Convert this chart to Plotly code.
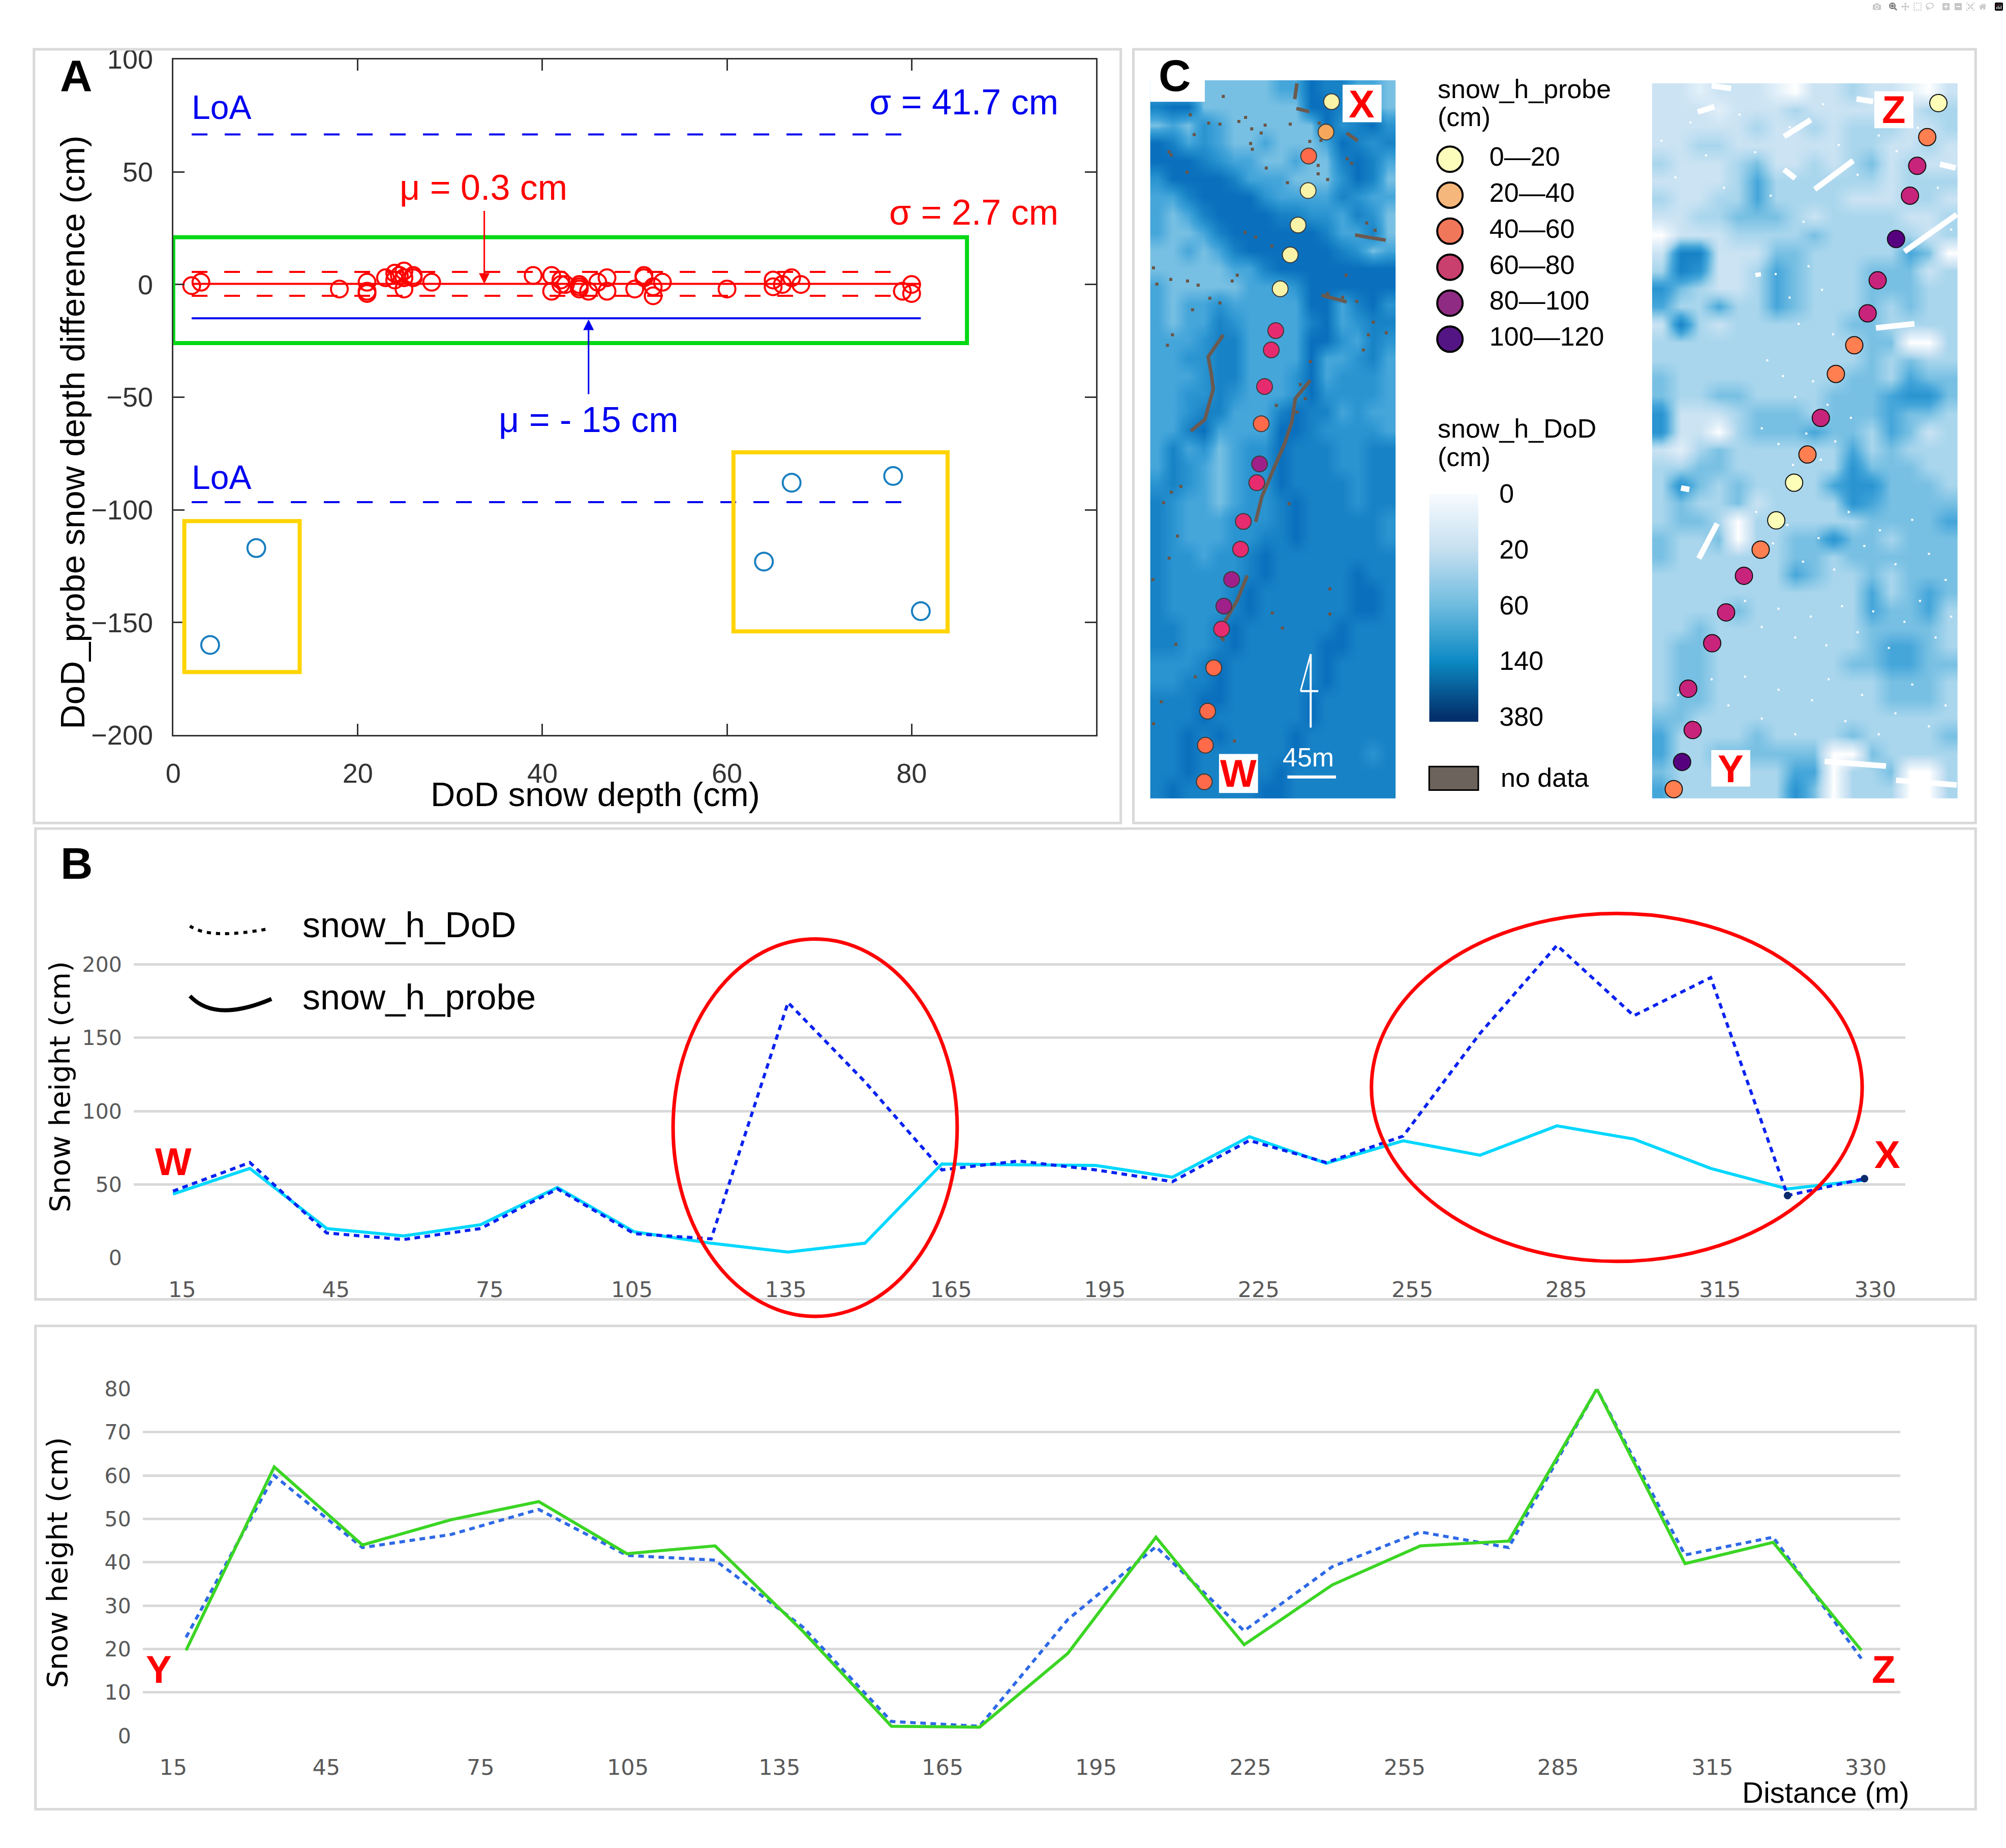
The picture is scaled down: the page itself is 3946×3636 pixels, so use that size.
import plotly.graph_objects as go

W, H = 3946, 3636
SANS = "Liberation Sans"
TICKS = "DejaVu Sans"

# Panel A: Bland-Altman points
inlier_depth = [2, 3, 18, 21, 21, 21, 23, 24, 24, 24.5, 25, 25, 25, 26, 26, 28, 39, 41, 41, 42, 42, 42.5,
                44, 44, 44, 45, 46, 47, 47, 50, 51, 51, 52, 52, 53, 60, 65, 65, 66, 67, 68, 79, 80, 80]
inlier_diff = [-0.5, 1, -2, 1, -3, -4, 3, 2, 5, 4, 6, -2, 3, 3, 4, 1, 4, 4, -3, 2, 0, 0,
               -1, 0, -2, -3, 1, 3, -3, -2, 3, 4, -1, -5, 1, -2, 2, -1, 0, 3, 0, -3, 0, -4]
outlier_depth = [4, 9, 64, 67, 78, 81]
outlier_diff = [-160, -117, -123, -88, -85, -145]
red_mean, red_upper, red_lower = 0.3, 5.6, -5.0
blue_mean, blue_upper, blue_lower = -15, 66.6, -96.6

# Panel B: transect W-X
wx_positions = list(range(23))
wx_probe = [43.5, 61, 20, 15, 22.6, 48, 17.8, 10, 4, 10, 64, 63.5, 63, 55, 82.6, 64.5, 79.8, 70, 90, 81, 61, 47, 53]
wx_dod = [45.5, 65, 17, 12.5, 20, 47, 16.5, 13, 174, 120, 60, 66, 60, 52, 80, 65, 83, 153, 213, 165, 191, 42.5, 54]
wx_labels = ["15", "45", "75", "105", "135", "165", "195", "225", "255", "285", "315", "330"]

# Panel B lower: transect Y-Z
yz_positions = list(range(20))
yz_probe = [19.7, 62, 44, 49.8, 54, 42, 43.8, 24, 2.2, 2, 19, 45.8, 21, 34.8, 43.8, 44.9, 80, 39.7, 44.6, 19.7]
yz_dod = [22.7, 60, 43.4, 46.4, 52.2, 41.6, 40.5, 25, 3.3, 2.2, 26.8, 43.6, 24.2, 39, 47, 43.4, 80, 41.7, 45.8, 17.8]
yz_labels = ["15", "45", "75", "105", "135", "165", "195", "225", "255", "285", "315", "330"]

# Panel C: probe classes and map sites (map coordinates)
probe_classes = ["0—20", "20—40", "40—60", "60—80", "80—100", "100—120"]
dod_labels = ["0", "20", "60", "140", "380"]

m1_x = [358, 348, 317, 316, 298, 284, 266, 258, 250, 238, 232, 229, 224, 200, 195, 179, 165, 161, 147, 136, 132, 130]
m1_y = [165, 223, 269, 335, 401, 458, 523, 603, 640, 710, 781, 858, 894, 968, 1021, 1079, 1130, 1174, 1248, 1331, 1396, 1466]
m1_class = [0, 1, 2, 0, 0, 0, 0, 3, 3, 3, 2, 4, 3, 3, 3, 4, 4, 3, 2, 2, 2, 2]

m2_x = [1447, 1427, 1409, 1396, 1371, 1338, 1320, 1296, 1263, 1236, 1212, 1188, 1156, 1128, 1098, 1066, 1041, 998, 1006, 987, 972]
m2_y = [168, 233, 288, 345, 428, 507, 570, 631, 686, 770, 840, 894, 966, 1022, 1072, 1142, 1201, 1288, 1367, 1428, 1480]
m2_class = [0, 2, 3, 3, 5, 3, 3, 2, 2, 3, 2, 0, 0, 2, 3, 3, 3, 3, 3, 5, 2]

# snow depth, one digit per cell (0 palest, 9 deepest)
m1_rows = [
    "5444444455877554", "7884444444887754", "4546544444486786", "8756544544458767", "8887655445447875",
    "6888875554446874", "5578888655557655", "5457888877665764", "5445788888875574", "4454578888887645",
    "4444455788888888", "5444445556888888", "5455655555885786", "5455765555785677", "5556775555886576",
    "5566775555855675", "5556775556856665", "5566765556866665", "5567755578775655", "5578555588766665",
    "5756456687776677", "5765456687776677", "6765456687777677", "7655456678777677", "7655566678777776",
    "7655566778777776", "7665667877777777", "7666667877777877", "7666678777777887", "7666678777777887",
    "7766787777778777", "7766787777788777", "6667877777787777", "6677877777787777", "7778877777877777",
    "7778777777877777", "7787877778777777", "7787777778777767", "7787777787777777", "7877777887777777",
]
m2_rows = [
    "2212221022322102", "2221222322221233", "2222232232333223", "2233222222332232", "3222342232342322",
    "2222353333332333", "3223353333222332", "2233444323333223", "0222333343333323", "2772224433333540",
    "3762235433344423", "6432235433344433", "5335335433343433", "2732333333443333", "3333333333344003",
    "3333333333343433", "4333333333443544", "4334433334445664", "6222344434445443", "6220344454435423",
    "2134333333534333", "3344333333644433", "3643433335664443", "3433423333654444", "3443033333344445",
    "4334033446443444", "4333333443444444", "3333333543343444", "3333333333353454", "3333433333354453",
    "3343333333344443", "3443333333345543", "3443333333445544", "3443333333334443", "3443333333334443",
    "4433333333333333", "5333343333433334", "5334444440043333", "4333333550334003", "5333333640333003",
]

# no-data streaks and flecks on the first map
nodata_streaks = [
    [(164, 611), (137, 653), (143, 688), (146, 715), (131, 773), (106, 795)],
    [(320, 698), (293, 733), (287, 777), (274, 819), (256, 863), (233, 921), (222, 969)],
    [(207, 1071), (189, 1119), (167, 1159), (161, 1194)],
    [(296, 130), (292, 160)], [(295, 178), (318, 184)], [(385, 225), (405, 240)],
    [(400, 420), (455, 430)], [(340, 535), (385, 548)],
]
nodata_x = [164, 105, 112, 67, 71, 99, 138, 158, 192, 204, 215, 232, 213, 216, 239, 241, 279, 284, 336, 339, 319,
            386, 334, 334, 351, 394, 421, 436, 203, 222, 251, 384, 351, 378, 403, 180, 189, 100, 119, 140, 158,
            73, 64, 424, 456, 433, 415, 45, 70, 39, 109, 320, 302, 311, 296, 259,
            71, 88, 57, 82, 67, 38, 282, 355, 355, 270, 252, 53, 39, 184, 79, 164, 114]
nodata_y = [155, 190, 228, 261, 267, 300, 206, 208, 203, 195, 217, 225, 245, 256, 210, 292, 320, 208, 206, 239, 241,
            274, 287, 303, 314, 283, 397, 411, 415, 424, 441, 497, 532, 539, 547, 508, 497, 508, 516, 541, 550,
            611, 631, 611, 607, 587, 640, 514, 505, 483, 563, 662, 706, 733, 759, 746,
            912, 901, 932, 996, 1038, 1079, 934, 1097, 1145, 1172, 1143, 1313, 1355, 1388, 1203, 1194, 1265]

# bare patches and speckles on the second map
bare_streaks = [
    [(1294, 278), (1225, 333)], [(1480, 381), (1386, 452)], [(1450, 285), (1478, 292)],
    [(1335, 598), (1404, 590)], [(1243, 1427), (1353, 1436)], [(1371, 1463), (1480, 1472)],
    [(1017, 1039), (1050, 972)], [(1170, 295), (1190, 312)], [(1300, 160), (1330, 165)],
    [(1218, 200), (1170, 232)], [(1040, 135), (1075, 140)], [(1015, 185), (1045, 175)],
    [(1123, 492), (1124, 500)], [(985, 904), (1000, 907)],
]
bare_x = [950, 975, 1002, 1030, 1062, 1090, 1118, 1146, 1180, 1205, 1240, 1268, 1302, 1340, 1372, 1410, 1446, 1470,
          1155, 1180, 1196, 1214, 1238, 1258, 1140, 1168, 1190, 1222, 1248, 1130, 1160, 1186, 1210, 1236, 1262, 1290,
          1120, 1150, 1176, 1204, 1232, 1260, 1286, 1314, 1342, 1370, 1400, 1430, 1460,
          1100, 1130, 1160, 1190, 1218, 1246, 1274, 1302, 1330, 1358, 1386, 1414, 1442, 1470,
          980, 1010, 1040, 1070, 1100, 1130, 1160, 1190, 1220, 1250, 1280, 1310, 1340, 1370, 1400, 1430, 1460]
bare_y = [240, 310, 205, 268, 330, 190, 262, 345, 214, 395, 170, 248, 305, 230, 260, 215, 330, 410,
          495, 540, 590, 480, 525, 610, 660, 690, 730, 700, 745, 790, 820, 860, 800, 850, 815, 770,
          950, 1010, 975, 1045, 1000, 1060, 950, 1015, 985, 1050, 965, 1030, 1080,
          1120, 1170, 1135, 1190, 1150, 1205, 1130, 1180, 1140, 1210, 1160, 1120, 1190, 1150,
          1300, 1350, 1270, 1320, 1265, 1345, 1290, 1375, 1310, 1270, 1350, 1300, 1375, 1335, 1280, 1360, 1320]

# Styles
PROBE_COLORS = ["#fcfdbb", "#f6b77c", "#f1775a", "#c93f6e", "#8f2b82", "#541584"]
M1_COLORS = ["#f9f3a8", "#f5a85c", "#ff6b4a", "#e62b6e", "#a0208a", "#541584"]
M2_COLORS = ["#fdffb8", "#f6b77c", "#ff7f50", "#c8247c", "#8f2b82", "#560080"]
DEPTH_SCALE = [[0, "#ffffff"], [1 / 9, "#e2f0f9"], [2 / 9, "#cbe3f3"], [3 / 9, "#a9d6ed"], [4 / 9, "#78c0e3"],
               [5 / 9, "#45a6da"], [6 / 9, "#2a94d1"], [7 / 9, "#1882c6"], [8 / 9, "#0a6fbd"], [1, "#0658a0"]]
BAR_SCALE = [[0, "#f7fbff"], [0.25, "#c5dff0"], [0.5, "#6fbcdf"], [0.75, "#0c8ac4"], [1, "#03306b"]]


def px(x):
    return x / W


def py(y):
    return 1 - y / H


def dom_x(a, b):
    return [px(a), px(b)]


def dom_y(top, bottom):
    return [py(bottom), py(top)]


def digits(rows):
    return [[int(c) for c in row] for row in rows]


def polyline(segments):
    xs, ys = [], []
    for seg in segments:
        xs += [p[0] for p in seg] + [None]
        ys += [p[1] for p in seg] + [None]
    return xs, ys


def box(x0, y0, x1, y1, color, width, fill=None, xref="paper", yref="paper", kind="rect"):
    if xref == "paper":
        x0, x1, y0, y1 = px(x0), px(x1), py(y0), py(y1)
    return dict(type=kind, xref=xref, yref=yref, x0=x0, x1=x1, y0=y0, y1=y1,
                line=dict(color=color, width=width), fillcolor=fill)


def label(x, y, text, size=52, color="black", bold=False, anchor="center", angle=0, font=SANS, xref="paper", yref="paper"):
    if xref == "paper":
        x, y = px(x), py(y)
    if bold:
        text = f"<b>{text}</b>"
    return dict(x=x, y=y, xref=xref, yref=yref, text=text, showarrow=False, xanchor=anchor, yanchor="middle",
                textangle=angle, font=dict(family=font, size=size, color=color))


fig = go.Figure()

# --- A ---
line_x = [2, 81]
dash_x = [2, 79.5]
for yv, color, dash, xs in [(red_mean, "red", "solid", line_x), (red_upper, "red", "31px,33px", dash_x),
                            (red_lower, "red", "31px,33px", dash_x), (blue_mean, "#0000f0", "solid", line_x),
                            (blue_upper, "#0000f0", "31px,34px", dash_x), (blue_lower, "#0000f0", "31px,34px", dash_x)]:
    fig.add_trace(go.Scatter(x=xs, y=[yv, yv], mode="lines", line=dict(color=color, width=4, dash=dash),
                             xaxis="x", yaxis="y", showlegend=False))
fig.add_trace(go.Scatter(x=inlier_depth, y=inlier_diff, mode="markers", xaxis="x", yaxis="y", showlegend=False,
                         marker=dict(symbol="circle-open", size=33, color="red", line=dict(width=4, color="red"))))
fig.add_trace(go.Scatter(x=outlier_depth, y=outlier_diff, mode="markers", xaxis="x", yaxis="y", showlegend=False,
                         marker=dict(symbol="circle-open", size=35, color="#1a7fc0", line=dict(width=4, color="#1a7fc0"))))

# --- B ---
fig.add_trace(go.Scatter(x=wx_positions, y=wx_probe, mode="lines", line=dict(color="#00d7ff", width=6),
                         xaxis="x2", yaxis="y2", showlegend=False))
fig.add_trace(go.Scatter(x=wx_positions, y=wx_dod, mode="lines", line=dict(color="#0a22f0", width=6, dash="11px,9px"),
                         xaxis="x2", yaxis="y2", showlegend=False))
fig.add_trace(go.Scatter(x=wx_positions[-2:], y=wx_dod[-2:], mode="markers", marker=dict(color="#0b2a6b", size=15),
                         xaxis="x2", yaxis="y2", showlegend=False))

fig.add_trace(go.Scatter(x=yz_positions, y=yz_dod, mode="lines", line=dict(color="#2e69e6", width=6, dash="11px,9px"),
                         xaxis="x3", yaxis="y3", showlegend=False))
fig.add_trace(go.Scatter(x=yz_positions, y=yz_probe, mode="lines", line=dict(color="#3bd524", width=6),
                         xaxis="x3", yaxis="y3", showlegend=False))

# --- C maps ---
fig.add_trace(go.Heatmap(z=digits(m1_rows), x0=33 + 13.75, dx=27.5, y0=124 + 17.2, dy=34.35, zmin=0, zmax=9,
                         colorscale=DEPTH_SCALE, showscale=False, zsmooth="best", xaxis="x4", yaxis="y4"))
xs, ys = polyline(nodata_streaks)
fig.add_trace(go.Scatter(x=xs, y=ys, mode="lines", line=dict(color="#6b5a50", width=7), xaxis="x4", yaxis="y4", showlegend=False))
fig.add_trace(go.Scatter(x=nodata_x, y=nodata_y, mode="markers", xaxis="x4", yaxis="y4", showlegend=False,
                         marker=dict(symbol="square", size=6, color="#6b5546")))
fig.add_trace(go.Scatter(x=m1_x, y=m1_y, mode="markers", xaxis="x4", yaxis="y4", showlegend=False,
                         marker=dict(size=31, color=[M1_COLORS[c] for c in m1_class], line=dict(color="#3a3a3a", width=2))))

fig.add_trace(go.Heatmap(z=digits(m2_rows), x0=933 + 17.15, dx=34.3, y0=130 + 17.1, dy=34.2, zmin=0, zmax=9,
                         colorscale=DEPTH_SCALE, showscale=False, zsmooth="best", xaxis="x6", yaxis="y6"))
xs, ys = polyline(bare_streaks)
fig.add_trace(go.Scatter(x=xs, y=ys, mode="lines", line=dict(color="white", width=11), xaxis="x6", yaxis="y6", showlegend=False))
fig.add_trace(go.Scatter(x=bare_x, y=bare_y, mode="markers", xaxis="x6", yaxis="y6", showlegend=False,
                         marker=dict(symbol="square", size=4, color="white")))
fig.add_trace(go.Scatter(x=m2_x, y=m2_y, mode="markers", xaxis="x6", yaxis="y6", showlegend=False,
                         marker=dict(size=34, color=[M2_COLORS[c] for c in m2_class], line=dict(color="#111111", width=2))))

# DoD colour bar
fig.add_trace(go.Heatmap(z=[[i] for i in range(len(dod_labels))], x=[0], y=list(range(len(dod_labels))), zmin=0, zmax=4,
                         colorscale=BAR_SCALE, showscale=False, zsmooth="best", xaxis="x5", yaxis="y5"))

# probe legend
rows = list(range(len(probe_classes)))
fig.add_trace(go.Scatter(x=[48] * 6, y=rows, mode="markers", xaxis="x7", yaxis="y7", showlegend=False,
                         marker=dict(size=50, color=PROBE_COLORS, line=dict(color="black", width=4))))
fig.add_trace(go.Scatter(x=[126] * 6, y=rows, mode="text", text=probe_classes, textposition="middle right",
                         textfont=dict(family=SANS, size=52, color="black"), xaxis="x7", yaxis="y7", showlegend=False))

plain = dict(showgrid=False, zeroline=False, showticklabels=False, ticks="", showline=False)
frame_a = dict(showline=True, mirror="ticks", linecolor="#333333", linewidth=3, ticks="inside", ticklen=22, tickwidth=3,
               tickcolor="#333333", showgrid=False, zeroline=False, ticklabelstandoff=26,
               tickfont=dict(family=SANS, size=54, color="#333333"))
grid_y = dict(showgrid=True, gridcolor="#d9d9d9", gridwidth=5, zeroline=False, showline=False,
              ticks="outside", ticklen=14, tickcolor="rgba(0,0,0,0)", tickfont=dict(family=TICKS, size=41, color="#595959"))
grid_x = dict(showgrid=False, zeroline=False, showline=False, ticks="outside", ticklen=24, tickcolor="rgba(0,0,0,0)",
              tickfont=dict(family=TICKS, size=43, color="#595959"))

# label offsets follow the source figure, where the labels sit a little off their points
wx_ticks = [i * 2 + 0.12 for i in range(11)] + [22.14]
wx_ticks[3] -= 0.15
wx_ticks[4] -= 0.15
yz_ticks = [-0.145, 1.59, 3.34, 5.01, 6.73, 8.58, 10.32, 12.07, 13.82, 15.56, 17.31, 19.05]

shapes = [
    # panel frames
    box(52, 68, 2198, 1616, "#d9d9d9", 5), box(2223, 68, 3886, 1616, "#d9d9d9", 5),
    box(55, 1627, 3886, 2569, "#d9d9d9", 5), box(55, 2622, 3886, 3589, "#d9d9d9", 5),
    # panel A boxes
    box(0, 21, 86, -26, "#00d814", 8, xref="x", yref="y"),
    box(1.2, -105, 13.7, -172, "#ffd400", 8, xref="x", yref="y"),
    box(60.7, -74.5, 83.9, -154, "#ffd400", 8, xref="x", yref="y"),
    # ellipses on panel B
    box(1314, 1848, 1875, 2603, "red", 7, kind="circle"),
    box(2693, 1797, 3662, 2493, "red", 7, kind="circle"),
    # white tags on the maps
    box(2256, 130, 2364, 173, "white", 0, "white"),
    box(2636, 139, 2713, 214, "white", 0, "white"), box(2392, 1478, 2469, 1556, "white", 0, "white"),
    box(3686, 152, 3763, 226, "white", 0, "white"), box(3364, 1470, 3441, 1543, "white", 0, "white"),
    # north arrow and scale bar
    box(2573, 1278, 2573, 1425, "white", 4, kind="line"), box(2553, 1352, 2588, 1352, "white", 4, kind="line"),
    box(2573, 1278, 2553, 1352, "white", 3, kind="line"), box(2527, 1524, 2623, 1524, "white", 6, kind="line"),
    # no data swatch
    box(2807, 1503, 2904, 1550, "black", 3, "#6b635c"),
    # legend samples
    dict(type="path", xref="paper", yref="paper",
         path=f"M {px(360)} {py(1822)} Q {px(400)} {py(1850)} {px(518)} {py(1827)}",
         line=dict(color="black", width=6, dash="8px,10px")),
    dict(type="path", xref="paper", yref="paper",
         path=f"M {px(360)} {py(1962)} Q {px(410)} {py(2016)} {px(521)} {py(1968)}",
         line=dict(color="black", width=8)),
]

annotations = [
    label(136, 120, "A", 88, bold=True), label(137, 1696, "B", 88, bold=True), label(2305, 120, "C", 88, bold=True),
    label(1160, 1558, "DoD snow depth (cm)", 67),
    label(128, 835, "DoD_probe snow depth difference (cm)", 67, angle=-90),
    label(1.9, 78.6, "LoA", 66, "#0000f0", anchor="left", xref="x", yref="y"),
    label(1.9, -85.6, "LoA", 66, "#0000f0", anchor="left", xref="x", yref="y"),
    label(96, 81, "σ = 41.7 cm", 70, "#0000f0", anchor="right", xref="x", yref="y"),
    label(96, 32, "σ = 2.7 cm", 70, "red", anchor="right", xref="x", yref="y"),
    label(33.6, 43, "μ = 0.3 cm", 70, "red", xref="x", yref="y"),
    label(45, -60, "μ = - 15 cm", 70, "#0000f0", xref="x", yref="y"),
    dict(x=33.7, y=red_mean, ax=33.7, ay=33, xref="x", yref="y", axref="x", ayref="y", text="", showarrow=True,
         arrowhead=2, arrowsize=1.4, arrowwidth=3, arrowcolor="red"),
    dict(x=45, y=blue_mean - 0.5, ax=45, ay=-49, xref="x", yref="y", axref="x", ayref="y", text="", showarrow=True,
         arrowhead=2, arrowsize=1.4, arrowwidth=3, arrowcolor="#0000f0"),
    label(580, 1820, "snow_h_DoD", 70, anchor="left"), label(580, 1964, "snow_h_probe", 70, anchor="left"),
    label(103, 2144, "Snow height (cm)", 56, angle=-90, font=TICKS),
    label(98, 3096, "Snow height (cm)", 56, angle=-90, font=TICKS),
    label(327, 2293, "W", 76, "red", bold=True), label(3712, 2279, "X", 76, "red", bold=True),
    label(299, 3309, "Y", 76, "red", bold=True), label(3704, 3309, "Z", 76, "red", bold=True),
    label(3590, 3555, "Distance (m)", 58),
    label(2674, 177, "X", 76, "red", bold=True), label(2430, 1517, "W", 76, "red", bold=True),
    label(3724, 189, "Z", 76, "red", bold=True), label(3402, 1507, "Y", 76, "red", bold=True),
    label(2568, 1485, "45m", 52, "white"),
    label(2822, 147, "snow_h_probe", 52, anchor="left"), label(2822, 203, "(cm)", 52, anchor="left"),
    label(2822, 827, "snow_h_DoD", 52, anchor="left"), label(2822, 884, "(cm)", 52, anchor="left"),
    label(2946, 1525, "no data", 52, anchor="left"),
]

fig.update_layout(
    width=W, height=H, autosize=False, margin=dict(l=0, r=0, t=0, b=0), paper_bgcolor="white", plot_bgcolor="white",
    showlegend=False, shapes=shapes, annotations=annotations,
    xaxis=dict(domain=dom_x(327, 2149.5), range=[0, 100], tickvals=[0, 20, 40, 60, 80], anchor="y", **frame_a),
    yaxis=dict(domain=dom_y(88, 1440), range=[-200, 100], tickvals=[-200, -150, -100, -50, 0, 50, 100], anchor="x", **frame_a),
    xaxis2=dict(domain=dom_x(249, 3747), range=[-0.51, 22.53], tickvals=wx_ticks, ticktext=wx_labels, anchor="y2", **grid_x),
    yaxis2=dict(domain=dom_y(1752, 2486), range=[0, 250], tickvals=[0, 50, 100, 150, 200, 250],
                ticktext=["0", "50", "100", "150", "200", ""], anchor="x2", **grid_y),
    xaxis3=dict(domain=dom_x(267, 3737), range=[-0.49, 19.44], tickvals=yz_ticks, ticktext=yz_labels, anchor="y3", **grid_x),
    yaxis3=dict(domain=dom_y(2748, 3442), range=[0, 80], tickvals=list(range(0, 90, 10)), anchor="x3", **grid_y),
    xaxis4=dict(domain=dom_x(2256, 2741), range=[33, 473], anchor="y4", **plain),
    yaxis4=dict(domain=dom_y(130, 1567), range=[1498, 124], anchor="x4", **plain),
    xaxis5=dict(domain=dom_x(2807, 2904), range=[-0.5, 0.5], anchor="y5", **plain),
    yaxis5=dict(domain=dom_y(957, 1414), range=[4.1, 0], anchor="x5", side="right", showgrid=False, zeroline=False, showline=False,
                ticks="outside", ticklen=30, tickcolor="rgba(0,0,0,0)", tickvals=list(range(5)), ticktext=dod_labels,
                tickfont=dict(family=SANS, size=52, color="black")),
    xaxis6=dict(domain=dom_x(3247, 3851), range=[933, 1482], anchor="y6", **plain),
    yaxis6=dict(domain=dom_y(136, 1567), range=[1498, 130], anchor="x6", **plain),
    xaxis7=dict(domain=dom_x(2800, 3200), range=[0, 400], anchor="y7", **plain),
    yaxis7=dict(domain=dom_y(252, 684), range=[5.5, -0.5], anchor="x7", **plain),
)

fig.write_html("out.html", post_script="document.body.style.margin='0';")
